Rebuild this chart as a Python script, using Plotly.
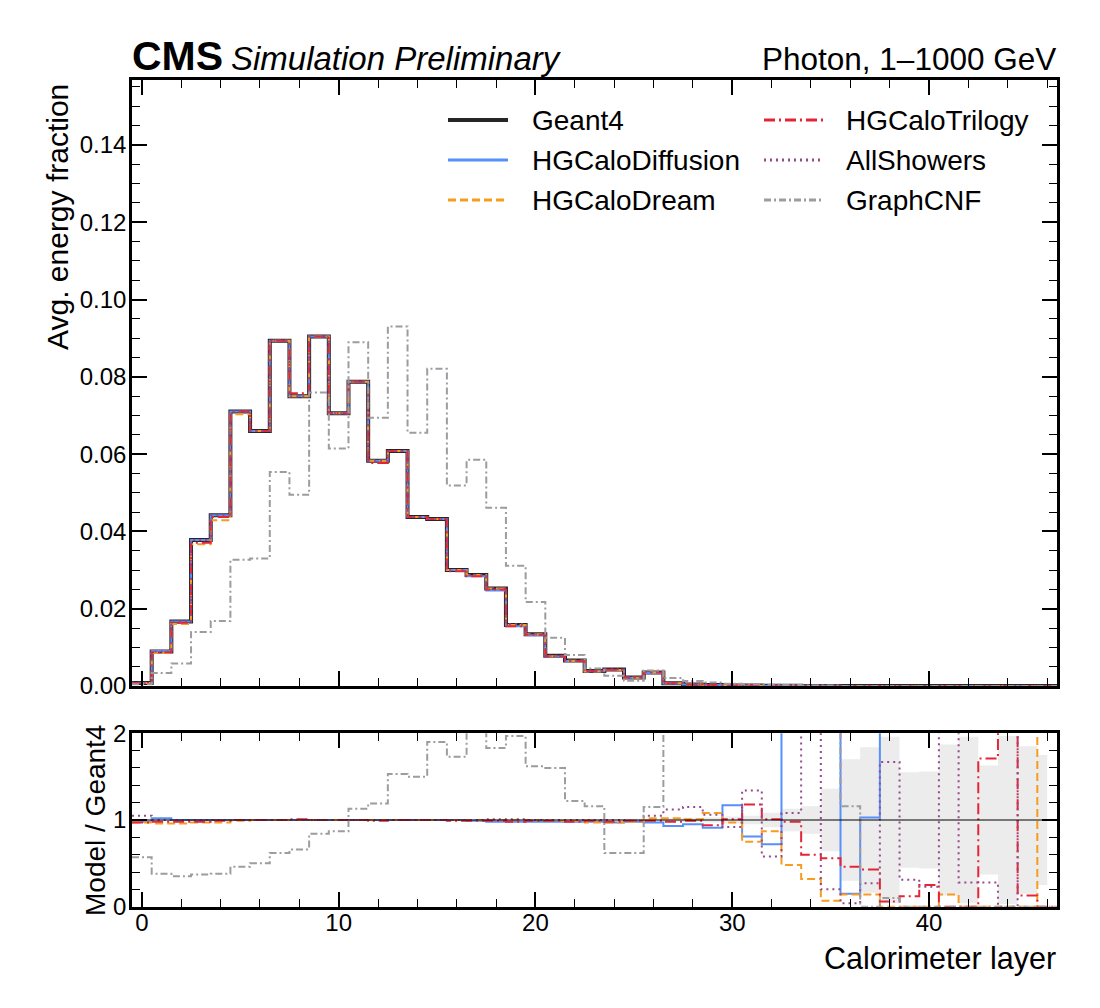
import plotly.graph_objects as go

# calorimeter layers (bin centres)
layers = list(range(47))

# Geant4 average energy fraction per layer
geant4 = [0.0008, 0.0089, 0.0167, 0.0378, 0.0442, 0.0710, 0.0660, 0.0893, 0.0750, 0.0904,
          0.0706, 0.0787, 0.0583, 0.0608, 0.0437, 0.0432, 0.0300, 0.0287, 0.0252, 0.0158,
          0.0134, 0.0078, 0.0066, 0.0039, 0.0043, 0.0022, 0.0035, 0.0007, 0.0004, 0.00025,
          0.00015, 0.0001, 0.00007, 0.00005, 0.00003, 0.00002, 0.000015, 0.00001, 0.000008, 0.000006,
          0.000005, 0.000004, 0.000003, 0.000003, 0.000002, 0.000002, 0.000001]

# Model / Geant4 ratios
ratio_diffusion = [0.98, 1.02, 1.0, 1.0, 1.0, 1.0, 1.0, 1.0, 1.0, 1.0,
                   1.0, 1.0, 1.0, 1.0, 1.0, 1.0, 1.0, 0.99, 0.98, 0.98,
                   0.98, 0.98, 0.98, 0.98, 0.97, 0.98, 0.97, 0.93, 0.95, 0.91,
                   1.17, 0.81, 0.72, 3.0, 3.0, 3.0, 0.15, 1.03, 3.0, 3.0,
                   3.0, 3.0, 3.0, 3.0, 3.0, 3.0, 3.0]
ratio_dream = [0.97, 0.96, 0.96, 0.97, 0.97, 0.99, 1.0, 1.0, 1.0, 1.0,
               1.0, 1.0, 1.0, 1.0, 1.0, 1.0, 1.0, 1.0, 1.0, 1.0,
               1.0, 0.99, 0.99, 0.97, 0.97, 0.98, 1.02, 1.02, 1.01, 1.08,
               0.97, 0.75, 0.87, 0.48, 0.32, 0.07, 0.14, 0.14, 0.0, 0.0,
               0.0, 0.14, 0.0, 0.0, 0.0, 0.0, 3.0]
ratio_trilogy = [0.97, 0.98, 0.98, 0.98, 0.99, 1.0, 1.0, 1.0, 1.01, 1.0,
                 1.0, 1.0, 0.99, 1.0, 1.0, 1.0, 0.99, 0.99, 0.99, 0.98,
                 0.99, 0.99, 0.98, 0.99, 0.98, 0.99, 0.99, 0.98, 0.99, 0.94,
                 1.01, 1.18, 1.01, 0.98, 0.60, 0.56, 0.46, 0.43, 0.06, 0.12,
                 0.25, 0.0, 0.0, 1.71, 2.5, 0.13, 0.0]
ratio_allshowers = [1.05, 1.0, 1.0, 1.0, 1.0, 1.0, 1.0, 1.0, 1.0, 1.0,
                    1.0, 1.0, 1.0, 1.0, 1.0, 1.0, 1.0, 1.0, 1.01, 1.01,
                    1.0, 1.0, 1.0, 1.0, 1.0, 0.99, 1.05, 1.12, 1.15, 1.06,
                    0.92, 1.34, 0.58, 1.08, 3.0, 0.20, 0.04, 0.27, 1.67, 0.31,
                    0.23, 3.0, 0.28, 0.28, 0.0, 3.0, 3.0]
ratio_graphcnf = [0.57, 0.38, 0.35, 0.37, 0.38, 0.46, 0.50, 0.62, 0.66, 0.84,
                  0.87, 1.13, 1.19, 1.53, 1.50, 1.90, 1.73, 2.04, 1.83, 1.97,
                  1.62, 1.60, 1.22, 1.16, 0.62, 0.62, 1.15, 3.0, 3.2, 3.5,
                  4.0, 4.5, 5.0, 5.0, 5.0, 5.0, 1.16, 0.0, 0.10, 0.0,
                  0.0, 0.0, 0.0, 0.0, 0.0, 0.0, 0.0]

# Geant4 statistical uncertainty (relative)
g4_err = [0.004, 0.004, 0.004, 0.004, 0.004, 0.004, 0.004, 0.004, 0.004, 0.004,
          0.004, 0.004, 0.004, 0.004, 0.004, 0.004, 0.004, 0.004, 0.004, 0.005,
          0.006, 0.007, 0.008, 0.010, 0.012, 0.015, 0.015, 0.020, 0.025, 0.030,
          0.040, 0.050, 0.085, 0.13, 0.16, 0.36, 0.70, 0.84, 0.96, 0.55,
          0.56, 0.87, 0.96, 0.63, 0.97, 0.85, 0.75]

models = [
    ("HGCaloDiffusion", ratio_diffusion, "#5790fc", "solid"),
    ("HGCaloDream", ratio_dream, "#f89c20", "8px,4px"),
    ("HGCaloTrilogy", ratio_trilogy, "#e42536", "11px,4px,2px,4px"),
    ("AllShowers", ratio_allshowers, "#964a8b", "2px,4px"),
    ("GraphCNF", ratio_graphcnf, "#9c9ca1", "7px,3px,2px,3px"),
]

W, H = 1100, 1008
OFF = 8  # page body margin
FONT = "Liberation Sans, Arial, Helvetica, sans-serif"


def fx(px):
    return (px - OFF) / W


def fy(py):
    return 1 - (py - OFF) / H


edges = [l - 0.5 for l in layers] + [layers[-1] + 0.5]


def step(vals):
    return list(vals) + [vals[-1]]


fig = go.Figure()

# ratio panel: uncertainty band
fig.add_trace(go.Scatter(x=layers, y=[1 - e for e in g4_err], mode="lines", line=dict(width=0, shape="hvh"),
                         xaxis="x2", yaxis="y2", showlegend=False, hoverinfo="skip"))
fig.add_trace(go.Scatter(x=layers, y=[1 + e for e in g4_err], mode="lines", line=dict(width=0, shape="hvh"),
                         fill="tonexty", fillcolor="#ececec", xaxis="x2", yaxis="y2",
                         showlegend=False, hoverinfo="skip"))

# main panel: Geant4
fig.add_trace(go.Scatter(x=edges, y=step(geant4), mode="lines", name="Geant4",
                         line=dict(color="#262626", width=4, shape="hv"), showlegend=False))

for name, ratio, color, dash in models:
    vals = [g * r for g, r in zip(geant4, ratio)]
    fig.add_trace(go.Scatter(x=edges, y=step(vals), mode="lines", name=name,
                             line=dict(color=color, width=2, dash=dash, shape="hv"), showlegend=False))
    fig.add_trace(go.Scatter(x=edges, y=step(ratio), mode="lines", name=name,
                             line=dict(color=color, width=2, dash=dash, shape="hv"),
                             xaxis="x2", yaxis="y2", showlegend=False))

fig.add_shape(type="line", xref="x2 domain", yref="y2", x0=0, x1=1, y0=1, y1=1,
              line=dict(color="black", width=1.2))

axis_common = dict(showline=True, linecolor="black", linewidth=2.5, mirror="allticks", automargin=False,
                   ticks="inside", tickcolor="black", tickwidth=1.5, showgrid=False, zeroline=False,
                   tickfont=dict(family=FONT, size=24, color="black"))
minor_common = dict(ticks="inside", tickcolor="black", tickwidth=1.2, ticklen=8, tick0=0)

x_dom = [fx(132), fx(1057)]
fig.update_layout(
    width=W, height=H,
    margin=dict(l=0, r=0, t=0, b=0, pad=0),
    paper_bgcolor="white", plot_bgcolor="white",
    font=dict(family=FONT, color="black"),
    showlegend=False,
    xaxis=dict(domain=x_dom, anchor="y", range=[-0.5, 46.5], dtick=10, tick0=0, ticklen=15,
               showticklabels=False, matches="x2", minor=dict(dtick=2, **minor_common), **axis_common),
    yaxis=dict(domain=[fy(686), fy(80)], anchor="x", range=[0, 0.1568], dtick=0.02, tick0=0,
               tickformat=".2f", ticklen=15, ticklabelstandoff=-2,
               minor=dict(dtick=0.005, **minor_common), **axis_common),
    xaxis2=dict(domain=x_dom, anchor="y2", range=[-0.5, 46.5], dtick=10, tick0=0, ticklen=15,
                ticklabelstandoff=-7, minor=dict(dtick=2, **minor_common), **axis_common),
    yaxis2=dict(domain=[fy(906.7), fy(733.3)], anchor="x2", range=[0, 2], dtick=1, tick0=0,
                ticklen=15, ticklabelstandoff=-2, minor=dict(dtick=0.2, **minor_common), **axis_common),
)

annotations = [
    dict(text="<b>CMS</b>", x=fx(130), y=fy(81), xanchor="left", yanchor="bottom",
         font=dict(family=FONT, size=41, color="black")),
    dict(text="<i>Simulation Preliminary</i>", x=fx(229), y=fy(79), xanchor="left", yanchor="bottom",
         font=dict(family=FONT, size=33, color="black")),
    dict(text="Photon, 1\u20131000 GeV", x=fx(1058), y=fy(79), xanchor="right", yanchor="bottom",
         font=dict(family=FONT, size=31.5, color="black")),
    dict(text="Avg. energy fraction", x=fx(58), y=fy(82), xanchor="center", yanchor="top",
         textangle=-90, font=dict(family=FONT, size=30, color="black")),
    dict(text="Model / Geant4", x=fx(95), y=fy(821), xanchor="center", yanchor="middle",
         textangle=-90, font=dict(family=FONT, size=28, color="black")),
    dict(text="Calorimeter layer", x=fx(1058), y=fy(958), xanchor="right", yanchor="middle",
         font=dict(family=FONT, size=30.5, color="black")),
]

# legend, two columns
legend_items = [("Geant4", "#262626", "solid", 4)] + [(m[0], m[2], m[3], 2) for m in models]
col_line = [(448, 508), (764, 823)]
col_text = [530, 844]
row_y = [120, 160, 200]
for i, (name, color, dash, width) in enumerate(legend_items):
    c, r = divmod(i, 3)
    yy = fy(row_y[r])
    fig.add_shape(type="line", xref="paper", yref="paper", x0=fx(col_line[c][0]), x1=fx(col_line[c][1]),
                  y0=yy, y1=yy, line=dict(color=color, width=width + (1 if width == 2 else 0), dash=dash))
    annotations.append(dict(text=name, x=fx(col_text[c]), y=yy, xanchor="left", yanchor="middle",
                            font=dict(family=FONT, size=28, color="black")))

for a in annotations:
    a.update(xref="paper", yref="paper", showarrow=False)
fig.update_layout(annotations=annotations)

fig.write_html("out.html")
